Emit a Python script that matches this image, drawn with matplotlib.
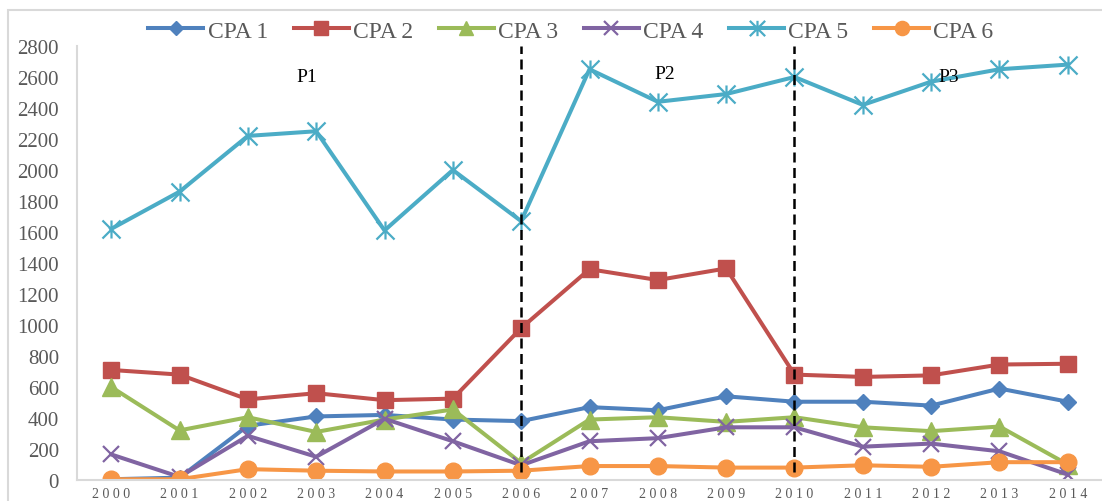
import matplotlib
matplotlib.use("Agg")
import matplotlib.pyplot as plt
from matplotlib.path import Path
from matplotlib.patches import Rectangle

years = ["2000", "2001", "2002", "2003", "2004", "2005", "2006", "2007",
         "2008", "2009", "2010", "2011", "2012", "2013", "2014"]

cpa1 = [5, 15, 350, 410, 420, 390, 380, 470, 450, 540, 505, 505, 480, 590, 505]
cpa2 = [710, 680, 520, 560, 515, 525, 980, 1360, 1290, 1365, 680, 665, 675, 745, 750]
cpa3 = [600, 320, 405, 310, 390, 455, 110, 390, 405, 375, 405, 340, 315, 345, 100]
cpa4 = [165, 20, 285, 150, 395, 250, 95, 250, 270, 340, 340, 215, 235, 185, 35]
cpa5 = [1620, 1860, 2220, 2250, 1610, 2000, 1670, 2650, 2440, 2490, 2600, 2420, 2570, 2650, 2680]
cpa6 = [5, 5, 70, 60, 55, 55, 60, 90, 90, 80, 80, 95, 85, 115, 115]

series_names = ["CPA 1", "CPA 2", "CPA 3", "CPA 4", "CPA 5", "CPA 6"]
series_values = [cpa1, cpa2, cpa3, cpa4, cpa5, cpa6]

period_labels = ["P1", "P2", "P3"]
period_x = [2.86, 8.1, 12.25]
period_y = [2600, 2620, 2605]
break_years = ["2006", "2010"]

# asterisk marker: an x with a vertical bar through it
star = Path([(0, -1), (0, 1), (-1, -1), (1, 1), (-1, 1), (1, -1)],
            [Path.MOVETO, Path.LINETO, Path.MOVETO, Path.LINETO, Path.MOVETO, Path.LINETO])

styles = [
    dict(color="#4F81BD", marker="D", ms=8.5),
    dict(color="#C0504D", marker="s", ms=11.5),
    dict(color="#9BBB59", marker="^", ms=12.5),
    dict(color="#8064A2", marker="x", ms=11.5, mew=1.6),
    dict(color="#4BACC6", marker=star, ms=13, mew=1.6),
    dict(color="#F79646", marker="o", ms=12),
]

plt.rcParams["font.family"] = ["Liberation Serif", "DejaVu Serif"]

fig = plt.figure(figsize=(11.02, 5.02), dpi=100)
W, H = 1102, 502
ax = fig.add_axes([77 / W, 21 / H, 1 - 77 / W, (481 - 47) / H])

xs = list(range(len(years)))
for name, vals, st in zip(series_names, series_values, styles):
    ax.plot(xs, vals, lw=2.9, label=name, solid_joinstyle="round",
            markeredgecolor=st["color"], markerfacecolor=st["color"], **st)

for by in break_years:
    xi = years.index(by)
    ax.plot([xi, xi], [50, 2800], color="black", lw=1.8,
            linestyle=(0, (4, 2.2)), zorder=5)

for lab, px, py in zip(period_labels, period_x, period_y):
    ax.text(px, py, lab, fontsize=14, color="black", ha="center", va="center", zorder=6)

ax.set_xlim(-0.5, len(years) - 0.5)
ax.set_ylim(0, 2800)
ax.set_yticks(range(0, 2801, 200))
ax.set_yticklabels([str(v) for v in range(0, 2801, 200)], fontsize=15, color="#595959")
ax.set_xticks(xs)
ax.set_xticklabels([" ".join(y) for y in years], fontsize=10, color="#595959")
ax.tick_params(axis="both", length=0)
ax.tick_params(axis="y", pad=13)
ax.tick_params(axis="x", pad=5)

for side in ["top", "right"]:
    ax.spines[side].set_visible(False)
for side in ["left", "bottom"]:
    ax.spines[side].set_color("#D9D9D9")
    ax.spines[side].set_linewidth(1.5)

leg = fig.legend(loc="center", bbox_to_anchor=(571 / W, 1 - 32 / H), ncol=6,
                 frameon=False, fontsize=17, handlelength=2.33, handletextpad=0.17,
                 columnspacing=1.1, markerscale=0.85)
for t in leg.get_texts():
    t.set_color("#595959")

# chart-area border
fig.patches.append(Rectangle((8 / W, -0.1), 1.2, 1.1 - 11 / H, transform=fig.transFigure,
                             fill=False, edgecolor="#D9D9D9", lw=1.5, zorder=0))

fig.savefig("out.png", dpi=100)
